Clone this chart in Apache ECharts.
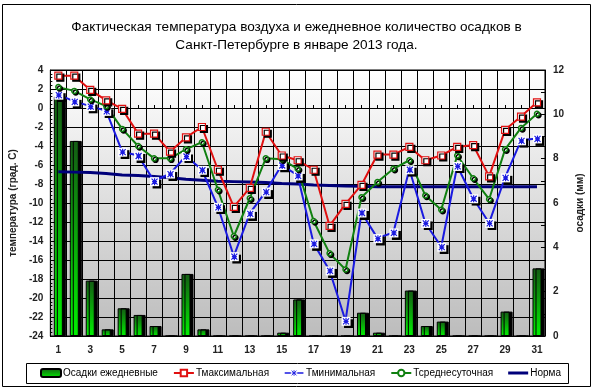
<!DOCTYPE html>
<html><head><meta charset="utf-8">
<script src="https://cdn.jsdelivr.net/npm/echarts@6/dist/echarts.min.js"></script>
<style>html,body{margin:0;padding:0;background:#fff}#c{width:593px;height:388px}</style>
</head><body><div id="c"></div>
<script>
const days = ['1','2','3','4','5','6','7','8','9','10','11','12','13','14','15','16','17','18','19','20','21','22','23','24','25','26','27','28','29','30','31'];
const precip = [10.8, 8.8, 2.5, 0.3, 1.25, 0.95, 0.45, 0, 2.8, 0.3, 0, 0, 0, 0, 0.15, 1.65, 0, 0, 0, 1.05, 0.15, 0, 2.05, 0.45, 0.65, 0, 0, 0, 1.1, 0, 3.05];
const tmax = [3.4, 3.4, 1.9, 0.8, -0.1, -2.7, -2.7, -4.6, -3.1, -2.0, -6.5, -10.4, -8.4, -2.5, -5.0, -5.5, -6.5, -12.4, -10.1, -8.1, -4.9, -4.9, -4.1, -5.5, -5.0, -4.1, -3.9, -7.2, -2.3, -0.9, 0.6];
const tmin = [1.4, 0.7, 0.2, -0.3, -4.6, -5.0, -7.7, -6.9, -5.05, -6.5, -10.4, -15.6, -11.1, -8.8, -6.0, -7.1, -14.25, -17.1, -22.4, -11.0, -13.7, -13.1, -6.45, -12.1, -14.6, -6.1, -9.5, -12.1, -7.3, -3.4, -3.2];
const tavg = [2.2, 1.8, 0.9, 0.2, -2.2, -4.0, -5.3, -5.3, -4.35, -3.6, -8.6, -13.5, -9.5, -5.3, -5.4, -6.4, -11.9, -15.3, -17.0, -9.4, -7.8, -6.4, -5.5, -9.2, -10.7, -5.0, -7.4, -9.6, -4.35, -2.1, -0.6];
const norma = [-6.7, -6.75, -6.8, -6.9, -7.05, -7.1, -7.2, -7.35, -7.5, -7.6, -7.7, -7.75, -7.8, -7.85, -7.95, -8.0, -8.1, -8.15, -8.2, -8.25, -8.3, -8.3, -8.3, -8.3, -8.3, -8.3, -8.3, -8.3, -8.3, -8.3, -8.3];
const seriesNames = ['Осадки ежедневные', 'Тмаксимальная', 'Тминимальная', 'Тсреднесуточная', 'Норма'];
const titleText = 'Фактическая температура воздуха и ежедневное количество осадков в\nСанкт-Петербурге в январе 2013 года.';

const FONT = 'Liberation Sans, Arial, sans-serif';
const blueSym = 'image://data:image/svg+xml;utf8,' + encodeURIComponent(
  "<svg xmlns='http://www.w3.org/2000/svg' width='12' height='12'>" +
  "<rect x='3' y='3' width='9' height='9' fill='black'/>" +
  "<rect x='0.5' y='0.5' width='9' height='9' fill='white'/>" +
  "<path d='M5 1.5V8.5M2 2L8 8M8 2L2 8M2.5 5H7.5' stroke='#1a1ae0' stroke-width='1.2' fill='none'/>" +
  "</svg>");
const blueLegendSym = 'image://data:image/svg+xml;utf8,' + encodeURIComponent(
  "<svg xmlns='http://www.w3.org/2000/svg' width='24' height='10'>" +
  "<path d='M0 5H24' stroke='#1a1ae0' stroke-width='2'/>" +
  "<rect x='8' y='1' width='8' height='8' fill='white'/>" +
  "<path d='M12 1.5V8.5M9 2L15 8M15 2L9 8M9 5H15' stroke='#1a1ae0' stroke-width='1.1' fill='none'/>" +
  "</svg>");

const chart = echarts.init(document.getElementById('c'), null, {renderer: 'canvas'});
const labelStyle = {fontFamily: FONT, fontSize: 10, fontWeight: 'bold', color: '#222'};
chart.setOption({
  animation: false,
  backgroundColor: '#fff',
  title: {
    text: titleText, left: 'center', top: 13,
    textStyle: {fontFamily: FONT, fontSize: 13.6, fontWeight: 'normal', color: '#000', lineHeight: 18}
  },
  graphic: [
    {type: 'rect', shape: {x: 2.5, y: 4.5, width: 588, height: 382}, style: {fill: 'none', stroke: '#000', lineWidth: 1}, z: -10},
    {type: 'rect', shape: {x: 26.5, y: 363.5, width: 542, height: 20}, style: {fill: 'none', stroke: '#000', lineWidth: 1}, z: -10}
  ],
  legend: {
    left: 40, top: 368, padding: 0, itemGap: 15, itemWidth: 20, itemHeight: 8,
    textStyle: {fontFamily: FONT, fontSize: 10, color: '#000', padding: [0, 0, 0, -3]},
    data: [
      {name: seriesNames[0]},
      {name: seriesNames[1]},
      {name: seriesNames[2], icon: blueLegendSym},
      {name: seriesNames[3]},
      {name: seriesNames[4], icon: 'path://M0,0H20V3H0Z'}
    ]
  },
  grid: {
    left: 50, right: 36, top: 70, bottom: 52, show: true,
    backgroundColor: new echarts.graphic.LinearGradient(0, 0, 0, 1, [{offset: 0, color: '#ffffff'}, {offset: 1, color: '#bcbcbc'}]),
    borderColor: '#000', borderWidth: 1
  },
  xAxis: [
    {
      type: 'category', data: days, position: 'bottom', boundaryGap: true,
      axisLine: {onZero: false, lineStyle: {color: '#000'}},
      axisTick: {show: false},
      axisLabel: Object.assign({interval: 1, margin: 9}, labelStyle),
      splitLine: {show: true, interval: 0, lineStyle: {color: '#000', width: 1}}
    },
    {
      type: 'category', data: days, position: 'top', boundaryGap: true,
      axisLine: {show: true, onZero: true, onZeroAxisIndex: 0, lineStyle: {color: '#000'}},
      axisTick: {show: true, alignWithLabel: true, interval: 0, length: 3, lineStyle: {color: '#000'}},
      axisLabel: {show: false},
      splitLine: {show: false}
    }
  ],
  yAxis: [
    {
      type: 'value', min: -24, max: 4, interval: 2, position: 'left',
      name: 'температура (град. С)', nameLocation: 'middle', nameGap: 30,
      nameTextStyle: {fontFamily: FONT, fontSize: 10, fontWeight: 'bold', color: '#222'},
      axisLine: {show: true, lineStyle: {color: '#000'}},
      axisTick: {show: true, inside: true, length: 3, lineStyle: {color: '#000'}},
      minorTick: {show: true, splitNumber: 5, length: 2, lineStyle: {color: '#000'}},
      axisLabel: Object.assign({margin: 7}, labelStyle),
      splitLine: {show: true, lineStyle: {color: '#000', width: 1}}
    },
    {
      type: 'value', min: 0, max: 12, interval: 2, position: 'right',
      name: 'осадки (мм)', nameLocation: 'middle', nameGap: 24,
      nameTextStyle: {fontFamily: FONT, fontSize: 10, fontWeight: 'bold', color: '#222'},
      axisLine: {show: true, lineStyle: {color: '#000'}},
      axisTick: {show: true, inside: true, length: 4, lineStyle: {color: '#000'}},
      minorTick: {show: true, splitNumber: 2, length: 4, lineStyle: {color: '#000'}},
      axisLabel: Object.assign({margin: 8}, labelStyle),
      splitLine: {show: false}
    }
  ],
  series: [
    {
      name: seriesNames[0], type: 'bar', xAxisIndex: 0, yAxisIndex: 1, data: precip, barWidth: 9,
      itemStyle: {
        color: new echarts.graphic.LinearGradient(0, 0, 0, 1, [{offset: 0, color: '#145c14'}, {offset: 1, color: '#00f000'}]),
        borderColor: '#000', borderWidth: 1,
        shadowColor: '#000', shadowOffsetX: 3, shadowOffsetY: 0, shadowBlur: 0
      },
      z: 2
    },
    {
      name: seriesNames[4], type: 'line', xAxisIndex: 0, yAxisIndex: 0, data: norma,
      showSymbol: false, symbol: 'none', lineStyle: {color: '#00007a', width: 3}, itemStyle: {color: '#00007a'}, z: 3
    },
    {
      name: seriesNames[1], type: 'line', xAxisIndex: 0, yAxisIndex: 0, data: tmax,
      symbol: 'rect', symbolSize: 7, showAllSymbol: true,
      lineStyle: {color: '#e01010', width: 2},
      itemStyle: {color: '#fff', borderColor: '#e01010', borderWidth: 1.2, shadowColor: '#000', shadowOffsetX: 2, shadowOffsetY: 2, shadowBlur: 0},
      z: 5
    },
    {
      name: seriesNames[2], type: 'line', xAxisIndex: 0, yAxisIndex: 0, data: tmin,
      symbol: blueSym, symbolSize: 12, symbolOffset: [1.5, 1.5], showAllSymbol: true,
      lineStyle: {color: '#1a1ae0', width: 2},
      itemStyle: {color: '#1a1ae0'},
      z: 4
    },
    {
      name: seriesNames[3], type: 'line', xAxisIndex: 0, yAxisIndex: 0, data: tavg,
      symbol: 'circle', symbolSize: 5, showAllSymbol: true,
      lineStyle: {color: '#108010', width: 2},
      itemStyle: {color: '#fff', borderColor: '#108010', borderWidth: 1.5, shadowColor: '#000', shadowOffsetX: 1.5, shadowOffsetY: 1.5, shadowBlur: 0},
      z: 4
    }
  ]
});
</script></body></html>
